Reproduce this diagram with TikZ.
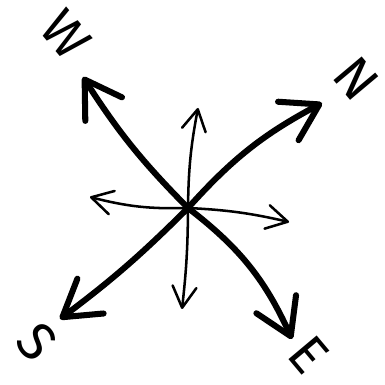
\documentclass[tikz,border=0pt]{standalone}
\usepackage{fontspec}
\setmainfont{Fira Sans}
\usetikzlibrary{arrows.meta}

\begin{document}
\begin{tikzpicture}[x=0.025cm,y=0.025cm,
  bigarrow/.style={line width=4.3pt,line cap=round,-{Straight Barb[length=25pt,width=31pt,round]}},
  smallarrow/.style={line width=1.8pt,line cap=round,-{Straight Barb[length=15pt,width=17pt,round]}},
  dirlabel/.style={font=\fontsize{38}{38}\selectfont,rotate=-50,inner sep=0pt}]
  \useasboundingbox (0,0) rectangle (385,385);
  % centre and arrow tips
  \coordinate (c) at (188,177);
  \coordinate (w) at (83,308);
  \coordinate (n) at (322,282);
  \coordinate (s) at (60,66);
  \coordinate (e) at (292,46);
  \coordinate (up) at (198,277);
  \coordinate (lt) at (90,188);
  \coordinate (rt) at (289,163);
  \coordinate (dn) at (182,76);
  % main directions
  \foreach \tip/\bnd in {w/6, n/10, s/4, e/14}
    \draw[bigarrow] (c) to[bend left=\bnd] (\tip);
  % minor directions
  \foreach \tip/\bnd in {up/5, lt/8, rt/5, dn/3}
    \draw[smallarrow] (c) to[bend left=\bnd] (\tip);
  % letters
  \node[dirlabel] (lw) at (66,350) {W};
  \node[dirlabel] (ln) at (356,306) {N};
  \node[dirlabel] (ls) at (37,43) {S};
  \node[dirlabel] (le) at (309,30) {E};
\end{tikzpicture}
\end{document}
